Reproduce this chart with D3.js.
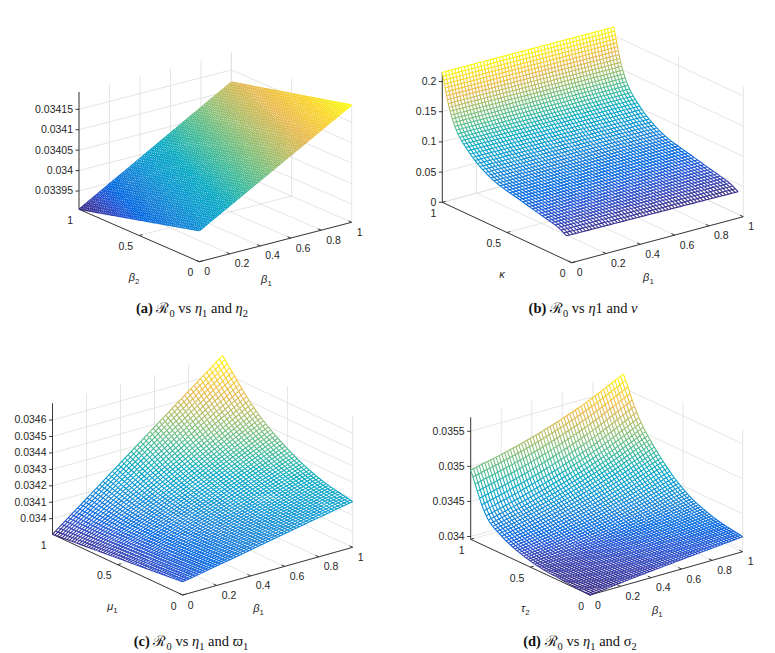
<!DOCTYPE html>
<html>
<head>
<meta charset="utf-8">
<script src="https://cdn.jsdelivr.net/npm/d3@7"></script>
<style>
  body { margin: 0; background: #fff; }
  svg { display: block; }
</style>
</head>
<body>
<svg id="fig" width="775" height="653"></svg>
<script>
// ---- data (rows = second axis, cols = beta_1) ----
var aBeta1 = [0, 0.5, 1];
var aBeta2 = [0, 0.5, 1];
var aR0 = [
  [0.0339810, 0.0340867, 0.0341924],
  [0.0339431, 0.0340497, 0.0341564],
  [0.0339052, 0.0340128, 0.0341203]
];

var bBeta1 = [0, 1];
var bKappa = [0.04, 0.1, 0.2, 0.3, 0.4, 0.5, 0.6, 0.7, 0.8, 0.9, 0.95, 1];
var bR0 = [
  [0.0405, 0.0375], [0.0475, 0.0445], [0.0535, 0.0505], [0.0585, 0.0556],
  [0.0640, 0.0612], [0.0690, 0.0663], [0.0755, 0.0729], [0.0870, 0.0845],
  [0.1050, 0.1027], [0.1340, 0.1320], [0.1650, 0.1633], [0.2153, 0.2140]
];

var cBeta1 = [0, 0.25, 0.5, 0.75, 1];
var cMu1 = [0, 0.25, 0.5, 0.75, 1];
var cR0 = [
  [0.033985, 0.034034, 0.034084, 0.034134, 0.034183],
  [0.033965, 0.034031, 0.034096, 0.034162, 0.034228],
  [0.033945, 0.034039, 0.034132, 0.034226, 0.034319],
  [0.033925, 0.034060, 0.034196, 0.034331, 0.034467],
  [0.033905, 0.034104, 0.034304, 0.034503, 0.034702]
];

var dBeta1 = [0, 0.25, 0.5, 0.75, 1];
var dTau2 = [0, 0.25, 0.5, 0.75, 0.875, 1];
var dR0 = [
  [0.033960, 0.034021, 0.034075, 0.034125, 0.034174],
  [0.033990, 0.034063, 0.034128, 0.034195, 0.034259],
  [0.034047, 0.034125, 0.034215, 0.034325, 0.034459],
  [0.034221, 0.034339, 0.034482, 0.034661, 0.034882],
  [0.034412, 0.034553, 0.034724, 0.034935, 0.035195],
  [0.034948, 0.035074, 0.035234, 0.035439, 0.035700]
];

// tick values / labels
var xTicks = [0, 0.2, 0.4, 0.6, 0.8, 1];
var xTickLabels = ["0", "0.2", "0.4", "0.6", "0.8", "1"];
var yTicks = [0, 0.5, 1];
var yTickLabels = ["0", "0.5", "1"];
var aZTicks = [0.03395, 0.034, 0.03405, 0.0341, 0.03415];
var aZLabels = ["0.03395", "0.034", "0.03405", "0.0341", "0.03415"];
var bZTicks = [0, 0.05, 0.1, 0.15, 0.2];
var bZLabels = ["0", "0.05", "0.1", "0.15", "0.2"];
var cZTicks = [0.034, 0.0341, 0.0342, 0.0343, 0.0344, 0.0345, 0.0346];
var cZLabels = ["0.034", "0.0341", "0.0342", "0.0343", "0.0344", "0.0345", "0.0346"];
var dZTicks = [0.034, 0.0345, 0.035, 0.0355];
var dZLabels = ["0.034", "0.0345", "0.035", "0.0355"];

// parula colour map (rows of the 64-entry map)
var parulaRows = [1, 4, 7, 10, 14, 20, 26, 33, 39, 45, 51, 58, 64];
var parulaStops = [
  [0.2081, 0.1663, 0.5292], [0.2081, 0.2386, 0.6771], [0.1253, 0.3242, 0.8303],
  [0.0060, 0.4086, 0.8828], [0.0723, 0.4887, 0.8467], [0.0343, 0.5966, 0.8199],
  [0.0267, 0.6642, 0.7607], [0.2586, 0.7317, 0.5954], [0.4871, 0.7491, 0.4840],
  [0.7184, 0.7411, 0.3905], [0.9139, 0.7258, 0.3063], [0.9789, 0.8271, 0.1633],
  [0.9763, 0.9831, 0.0538]
];
var parula = d3.scaleLinear()
  .domain(parulaRows.map(function(r) { return (r - 1) / 63; }))
  .range(parulaStops.map(function(c) { return d3.rgb(c[0] * 255, c[1] * 255, c[2] * 255); }))
  .interpolate(d3.interpolateRgb);

var panels = [
  { xv: aBeta1, yv: aBeta2, zv: aR0, zTicks: aZTicks, zLabels: aZLabels,
    zDomain: [0.0339052, 0.0341924], origin: [199.3, 261.7], ex: [152.4, -39.4], ey: [-120.3, -52.4], zH: 117.3,
    xLabel: [["β", "i"], ["1", "sub"]], yLabel: [["β", "i"], ["2", "sub"]],
    caption: [["(a) ", "b"], ["ℛ", "r"], ["0", "sub"], [" vs ", ""], ["η", "i"], ["1", "sub"], [" and ", ""], ["η", "i"], ["2", "sub"]],
    capPos: [192, 313], nx: 60, ny: 60, rowMode: "even", lw: 1.25 },
  { xv: bBeta1, yv: bKappa, zv: bR0, zTicks: bZTicks, zLabels: bZLabels,
    zDomain: [0, 0.2153], origin: [571.7, 262.7], ex: [171.6, -46], ey: [-129.4, -60.4], zH: 130,
    xLabel: [["β", "i"], ["1", "sub"]], yLabel: [["κ", "i"]],
    caption: [["(b) ", "b"], ["ℛ", "r"], ["0", "sub"], [" vs ", ""], ["η", "i"], ["1", ""], [" and ", ""], ["ν", "i"]],
    capPos: [583, 313], nx: 54, ny: 54, rowMode: "arc", lw: 1.1 },
  { xv: cBeta1, yv: cMu1, zv: cR0, zTicks: cZTicks, zLabels: cZLabels,
    zDomain: [0.033905, 0.034702], origin: [182.7, 595], ex: [170, -47.7], ey: [-130.2, -60.7], zH: 131,
    xLabel: [["β", "i"], ["1", "sub"]], yLabel: [["μ", "i"], ["1", "sub"]],
    caption: [["(c) ", "b"], ["ℛ", "r"], ["0", "sub"], [" vs ", ""], ["η", "i"], ["1", "sub"], [" and ", ""], ["ϖ", "i"], ["1", "sub"]],
    capPos: [191, 646], nx: 54, ny: 54, rowMode: "even", lw: 1.1 },
  { xv: dBeta1, yv: dTau2, zv: dR0, zTicks: dZTicks, zLabels: dZLabels,
    zDomain: [0.03396, 0.0357], origin: [590, 595], ex: [152.7, -43.3], ey: [-119.3, -55.7], zH: 122,
    xLabel: [["β", "i"], ["1", "sub"]], yLabel: [["τ", "i"], ["2", "sub"]],
    caption: [["(d) ", "b"], ["ℛ", "r"], ["0", "sub"], [" vs ", ""], ["η", "i"], ["1", "sub"], [" and ", ""], ["σ", ""], ["2", "sub"]],
    capPos: [580, 646], nx: 54, ny: 54, rowMode: "even", lw: 1.1 }
];

var svg = d3.select("#fig");
var axisColor = "#262626", gridColor = "#dedede";

// monotone cubic through read points (smooth surface between them)
function mono(xs, ys) {
  var n = xs.length, d = [], m = [];
  for (var k = 0; k < n - 1; k++) d.push((ys[k + 1] - ys[k]) / (xs[k + 1] - xs[k]));
  m[0] = d[0]; m[n - 1] = d[n - 2];
  for (k = 1; k < n - 1; k++) m[k] = (d[k - 1] * d[k] <= 0) ? 0 : (d[k - 1] + d[k]) / 2;
  for (k = 0; k < n - 1; k++) {
    if (d[k] === 0) { m[k] = m[k + 1] = 0; continue; }
    var a = m[k] / d[k], b = m[k + 1] / d[k], s = a * a + b * b;
    if (s > 9) { var t = 3 / Math.sqrt(s); m[k] = t * a * d[k]; m[k + 1] = t * b * d[k]; }
  }
  return function(x) {
    var k = Math.max(0, Math.min(n - 2, d3.bisectRight(xs, x) - 1));
    var h = xs[k + 1] - xs[k], t = (x - xs[k]) / h, t2 = t * t, t3 = t2 * t;
    return (2 * t3 - 3 * t2 + 1) * ys[k] + (t3 - 2 * t2 + t) * h * m[k] +
           (-2 * t3 + 3 * t2) * ys[k + 1] + (t3 - t2) * h * m[k + 1];
  };
}

function richText(sel, parts, size) {
  parts.forEach(function(pt) {
    var ts = sel.append("tspan").text(pt[0]);
    if (pt[1] === "b") ts.attr("font-weight", "bold");
    if (pt[1] === "i") ts.attr("font-style", "italic");
    if (pt[1] === "r") ts.attr("font-family", "'DejaVu Serif', 'Liberation Serif', serif");
    if (pt[1] === "sub") {
      ts.attr("font-size", size * 0.72).attr("dy", size * 0.28);
      sel.append("tspan").attr("font-size", 1).attr("dy", -size * 0.28).text("\u200a");
    }
  });
}

panels.forEach(function(p) {
  var g = svg.append("g");
  var xS = d3.scaleLinear().domain([0, 1]).range([0, 1]);
  var yS = d3.scaleLinear().domain([0, 1]).range([0, 1]);
  var zS = d3.scaleLinear().domain(p.zDomain).range([0, p.zH]);
  var z0 = p.zDomain[0], z1 = p.zDomain[1];
  function proj(x, y, z) {
    var u = xS(x), v = yS(y);
    return [p.origin[0] + p.ex[0] * u + p.ey[0] * v, p.origin[1] + p.ex[1] * u + p.ey[1] * v - zS(z)];
  }
  var line = d3.line();

  // grid on back walls and floor
  var grid = g.append("g").attr("fill", "none").attr("stroke", gridColor).attr("stroke-width", 0.8);
  xTicks.forEach(function(t) {
    grid.append("path").attr("d", line([proj(t, 1, z0), proj(t, 1, z1)]));
    grid.append("path").attr("d", line([proj(t, 0, z0), proj(t, 1, z0)]));
  });
  yTicks.forEach(function(t) {
    grid.append("path").attr("d", line([proj(1, t, z0), proj(1, t, z1)]));
    grid.append("path").attr("d", line([proj(0, t, z0), proj(1, t, z0)]));
  });
  p.zTicks.forEach(function(t) {
    grid.append("path").attr("d", line([proj(0, 1, t), proj(1, 1, t), proj(1, 0, t)]));
  });

  // axes lines
  var ax = g.append("g").attr("fill", "none").attr("stroke", axisColor).attr("stroke-width", 0.9);
  ax.append("path").attr("d", line([proj(0, 0, z0), proj(1, 0, z0)]));
  ax.append("path").attr("d", line([proj(0, 0, z0), proj(0, 1, z0)]));
  ax.append("path").attr("d", line([proj(0, 1, z0), proj(0, 1, z1)]));

  var eyL = Math.hypot(p.ey[0], p.ey[1]), exL = Math.hypot(p.ex[0], p.ex[1]), tl = 3.5;
  var txt = g.append("g").attr("font-family", "'Liberation Sans', Arial, sans-serif")
    .attr("font-size", 10.5).attr("fill", axisColor);
  xTicks.forEach(function(t, i) {
    var P = proj(t, 0, z0);
    ax.append("path").attr("d", line([P, [P[0] + p.ey[0] / eyL * tl, P[1] + p.ey[1] / eyL * tl]]));
    txt.append("text").attr("x", P[0] + 5).attr("y", P[1] + 13.5).text(xTickLabels[i]);
  });
  yTicks.forEach(function(t, i) {
    var P = proj(0, t, z0);
    ax.append("path").attr("d", line([P, [P[0] + p.ex[0] / exL * tl, P[1] + p.ex[1] / exL * tl]]));
    txt.append("text").attr("x", P[0] - 6).attr("y", P[1] + 14.5).attr("text-anchor", "end").text(yTickLabels[i]);
  });
  p.zTicks.forEach(function(t, i) {
    var P = proj(0, 1, t);
    ax.append("path").attr("d", line([P, [P[0] - tl, P[1]]]));
    txt.append("text").attr("x", P[0] - 6).attr("y", P[1] + 3.4).attr("text-anchor", "end").text(p.zLabels[i]);
  });

  // axis labels
  var XL = proj(0.5, 0, z0), YL = proj(0, 0.5, z0);
  richText(g.append("text").attr("x", XL[0] - 9).attr("y", XL[1] + 41).attr("text-anchor", "middle")
    .attr("font-family", "'Liberation Sans', Arial, sans-serif").attr("font-size", 11).attr("fill", axisColor), p.xLabel, 11);
  richText(g.append("text").attr("x", YL[0] - 5).attr("y", YL[1] + 45).attr("text-anchor", "middle")
    .attr("font-family", "'Liberation Sans', Arial, sans-serif").attr("font-size", 11).attr("fill", axisColor), p.yLabel, 11);

  // surface mesh
  var rowF = p.zv.map(function(r) { return mono(p.xv, r); });
  function colF(x) { return mono(p.yv, rowF.map(function(f) { return f(x); })); }
  var xa = p.xv[0], xb = p.xv[p.xv.length - 1], ya = p.yv[0], yb = p.yv[p.yv.length - 1];
  var xs = d3.range(p.nx + 1).map(function(i) { return xa + (xb - xa) * i / p.nx; });
  var ys;
  if (p.rowMode === "arc") {
    var f0 = colF(xa);
    var fine = d3.range(801).map(function(k) { return ya + (yb - ya) * k / 800; });
    var pts = fine.map(function(y) { return proj(xa, y, f0(y)); });
    var cum = [0];
    for (var k = 1; k < pts.length; k++) cum.push(cum[k - 1] + Math.hypot(pts[k][0] - pts[k - 1][0], pts[k][1] - pts[k - 1][1]));
    var arc = d3.scaleLinear().domain(cum).range(fine);
    var L = cum[cum.length - 1];
    ys = d3.range(p.ny + 1).map(function(j) { return arc(L * j / p.ny); });
  } else {
    ys = d3.range(p.ny + 1).map(function(j) { return ya + (yb - ya) * j / p.ny; });
  }
  var Z = xs.map(function(x) { var cf = colF(x); return ys.map(function(y) { return cf(y); }); });
  var V = xs.map(function(x, i) { return ys.map(function(y, j) { return proj(x, y, Z[i][j]); }); });

  // white faces hide what is behind the surface
  var outline = [];
  for (var i = 0; i <= p.nx; i++) outline.push(V[i][0]);
  for (var j = 1; j <= p.ny; j++) outline.push(V[p.nx][j]);
  for (i = p.nx - 1; i >= 0; i--) outline.push(V[i][p.ny]);
  for (j = p.ny - 1; j > 0; j--) outline.push(V[0][j]);
  g.append("path").attr("d", line(outline) + "Z").attr("fill", "#fff");

  var all = d3.merge(p.zv), cext = d3.extent(all), nC = 64;
  var buckets = d3.range(nC).map(function() { return d3.path(); });
  function seg(a, b, za, zb) {
    var c = Math.floor(((za + zb) / 2 - cext[0]) / (cext[1] - cext[0]) * nC);
    c = Math.max(0, Math.min(nC - 1, c));
    buckets[c].moveTo(a[0], a[1]); buckets[c].lineTo(b[0], b[1]);
  }
  for (i = 0; i <= p.nx; i++) for (j = 0; j <= p.ny; j++) {
    if (j < p.ny) seg(V[i][j], V[i][j + 1], Z[i][j], Z[i][j + 1]);
    if (i < p.nx) seg(V[i][j], V[i + 1][j], Z[i][j], Z[i + 1][j]);
  }
  var mesh = g.append("g").attr("fill", "none").attr("stroke-width", p.lw);
  buckets.forEach(function(b, c) {
    mesh.append("path").attr("d", b.toString()).attr("stroke", parula(c / (nC - 1)));
  });

  // caption
  richText(svg.append("text").attr("x", p.capPos[0]).attr("y", p.capPos[1]).attr("text-anchor", "middle")
    .attr("font-family", "'Liberation Serif', 'Times New Roman', serif").attr("font-size", 14.5).attr("fill", "#111"),
    p.caption, 14.5);
});
</script>
</body>
</html>
